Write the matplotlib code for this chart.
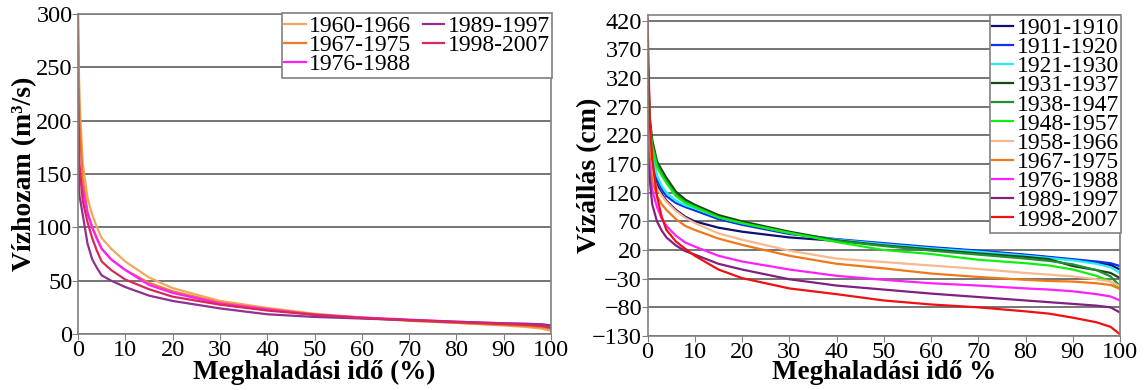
import matplotlib
matplotlib.use("Agg")
import matplotlib.pyplot as plt

plt.rcParams['font.family'] = ['Liberation Serif', 'DejaVu Serif']

# left panel: flow duration curves (Vízhozam)
x_left = [0, 0.3, 1, 2, 3, 4, 5, 7, 10, 15, 20, 30, 40, 50, 60, 70, 80, 90, 95, 98, 100]
q_1960_1966 = [300, 220, 160, 128, 112, 100, 90, 80, 68, 53, 43, 31, 24.5, 19, 15.5, 12.5, 10.5, 8, 6.5, 5, 3]
q_1967_1975 = [300, 200, 145, 115, 100, 90, 80, 70, 60, 48, 40, 29.5, 23.5, 18.5, 15, 12.5, 10.5, 8.5, 7.5, 6.5, 5]
q_1976_1988 = [175, 150, 135, 113, 100, 89, 80, 70, 60, 46, 38.5, 28.5, 23, 18, 15.5, 13.5, 11.5, 10, 9.5, 9, 8]
q_1989_1997 = [180, 130, 112, 85, 70, 62, 55, 50, 44, 36, 31, 24, 18.5, 16, 14.5, 13, 11.5, 10, 9.5, 9, 8]
q_1998_2007 = [230, 160, 125, 105, 90, 78, 68, 60, 51, 42, 35, 27.5, 22, 18, 15, 13, 11, 9.5, 8.5, 7.5, 6]

left_labels = ['1960-1966', '1967-1975', '1976-1988', '1989-1997', '1998-2007']
left_series = [q_1960_1966, q_1967_1975, q_1976_1988, q_1989_1997, q_1998_2007]
left_colors = ['#F0A860', '#F07828', '#FF20FF', '#903090', '#D82858']

# right panel: water level duration curves (Vízállás)
x_right = [0, 0.5, 1, 2, 3, 4, 6, 8, 10, 15, 20, 30, 40, 50, 60, 70, 80, 85, 90, 95, 98, 100]
h_1901_1910 = [300, 200, 165, 134, 118, 106, 90, 78, 70, 59, 52, 42, 36, 30, 24, 18, 11, 7, 3, -2, -6, -14]
h_1911_1920 = [310, 230, 190, 143, 126, 114, 102, 95, 89, 74, 64, 48, 39, 32, 25, 19, 12, 8, 4, 0, -3, -8]
h_1921_1930 = [290, 220, 185, 150, 132, 120, 106, 98, 93, 77, 67, 50, 38, 30, 23, 17, 10, 6, 2, -4, -10, -20]
h_1931_1937 = [370, 250, 212, 175, 160, 146, 122, 108, 99, 81, 70, 52, 37, 28, 21, 14, 8, 4, -8, -15, -20, -29]
h_1938_1947 = [360, 240, 205, 170, 155, 140, 117, 104, 96, 78, 67, 50, 36, 27, 19, 12, 5, 1, -5, -15, -26, -43]
h_1948_1957 = [330, 235, 200, 165, 150, 137, 114, 102, 95, 77, 67, 50, 34, 20, 13, 3, -3, -7, -14, -25, -35, -47]
h_1958_1966 = [250, 190, 152, 128, 115, 104, 88, 76, 67, 49, 38, 19, 5, -1, -7, -13, -20, -23, -26, -31, -35, -43]
h_1967_1975 = [260, 180, 140, 115, 100, 90, 74, 62, 55, 40, 29, 10, -4, -12, -21, -27, -32, -34, -35, -38, -41, -48]
h_1976_1988 = [230, 155, 125, 95, 75, 62, 45, 33, 26, 10, 0, -14, -25, -32, -38, -42, -47, -49, -52, -57, -61, -68]
h_1989_1997 = [200, 140, 100, 70, 54, 42, 28, 18, 12, -4, -14, -31, -42, -49, -56, -62, -68, -71, -74, -77, -80, -89]
h_1998_2007 = [425, 240, 180, 114, 78, 55, 35, 22, 10, -14, -29, -47, -57, -68, -75, -80, -87, -91, -98, -106, -114, -127]

right_labels = ['1901-1910', '1911-1920', '1921-1930', '1931-1937', '1938-1947', '1948-1957',
                '1958-1966', '1967-1975', '1976-1988', '1989-1997', '1998-2007']
right_series = [h_1901_1910, h_1911_1920, h_1921_1930, h_1931_1937, h_1938_1947, h_1948_1957,
                h_1958_1966, h_1967_1975, h_1976_1988, h_1989_1997, h_1998_2007]
right_colors = ['#101070', '#1030F0', '#20F0F0', '#184818', '#209030', '#10F010',
                '#F8B890', '#F07818', '#FF20FF', '#802080', '#F01010']

fig = plt.figure(figsize=(11.45, 3.9), dpi=100)
ax1 = fig.add_axes([78 / 1145, 56 / 390, 473 / 1145, 320 / 390])
ax2 = fig.add_axes([647.5 / 1145, 54 / 390, 472.5 / 1145, 321 / 390])

for ax in (ax1, ax2):
    for s in ax.spines.values():
        s.set_color('#808080')
        s.set_linewidth(1.2)
    ax.set_xlim(0, 100)
    ax.set_xticks(range(0, 101, 10))
    ax.grid(axis='y', color='#505050', linewidth=1.1)
    ax.set_axisbelow(True)
    ax.tick_params(axis='both', labelsize=17.5, color='#808080', length=4, pad=0)

# left
for y, lab, c in zip(left_series, left_labels, left_colors):
    ax1.plot(x_left, y, color=c, linewidth=1.6, label=lab)
ax1.set_ylim(0, 300)
ax1.set_yticks(range(0, 301, 50))
ax1.set_ylabel('Vízhozam (m³/s)', fontsize=20, fontweight='bold')
ax1.set_xlabel('Meghaladási idő (%)', fontsize=19.5, fontweight='bold')
ax1.yaxis.set_label_coords(-0.087, 0.5)
ax1.xaxis.set_label_coords(0.5, -0.082)
leg1 = ax1.legend(ncol=2, loc='upper right', bbox_to_anchor=(1.003, 1.003), fontsize=17,
                  frameon=True, fancybox=False, edgecolor='#808080', framealpha=1,
                  handlelength=0.9, handletextpad=0.15, labelspacing=-0.1,
                  columnspacing=0.5, borderpad=0.1, borderaxespad=0)
leg1.get_frame().set_linewidth(1.2)

# right
for y, lab, c in zip(right_series, right_labels, right_colors):
    ax2.plot(x_right, y, color=c, linewidth=1.6, label=lab)
ax2.set_ylim(-130, 430)
ax2.set_yticks(range(-130, 421, 50))
ax2.set_ylabel('Vízállás (cm)', fontsize=20, fontweight='bold')
ax2.set_xlabel('Meghaladási idő %', fontsize=19.5, fontweight='bold')
ax2.yaxis.set_label_coords(-0.097, 0.5)
ax2.xaxis.set_label_coords(0.5, -0.076)
leg2 = ax2.legend(loc='upper right', bbox_to_anchor=(1.003, 1.0), fontsize=17,
                  frameon=True, fancybox=False, edgecolor='#808080', framealpha=1,
                  handlelength=0.9, handletextpad=0.15, labelspacing=-0.1,
                  borderpad=0.1, borderaxespad=0)
leg2.get_frame().set_linewidth(1.2)

fig.savefig('out.png', dpi=100)
